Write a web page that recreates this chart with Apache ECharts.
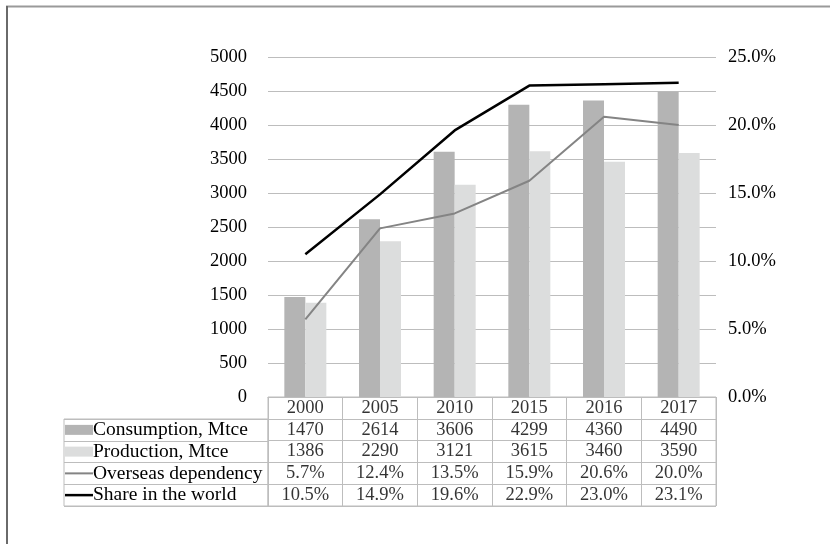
<!DOCTYPE html>
<html>
<head>
<meta charset="utf-8">
<script src="https://cdn.jsdelivr.net/npm/echarts@6/dist/echarts.min.js"></script>
<style>
html,body{margin:0;padding:0;background:#fff;}
#chart{width:830px;height:544px;}
</style>
</head>
<body>
<div id="chart"></div>
<script>
// ---- data ----
const years = ['2000', '2005', '2010', '2015', '2016', '2017'];
const consumption = [1470, 2614, 3606, 4299, 4360, 4490];
const production = [1386, 2290, 3121, 3615, 3460, 3590];
const overseas = [5.7, 12.4, 13.5, 15.9, 20.6, 20.0];
const share = [10.5, 14.9, 19.6, 22.9, 23.0, 23.1];
const seriesNames = ['Consumption, Mtce', 'Production, Mtce', 'Overseas dependency', 'Share in the world'];

// ---- styles ----
const FONT = 'Liberation Serif';
const FS = 18.5;
const FS_LABEL = 19.5;
const C_CONS = '#b4b4b4';
const C_PROD = '#dcdddd';
const C_OVER = '#848484';
const C_SHARE = '#000000';
const C_GRID = '#bdbdbd';

const pct = v => v.toFixed(1) + '%';
const tableRows = [
  years,
  consumption.map(String),
  production.map(String),
  overseas.map(pct),
  share.map(pct)
];
const cellData = [];
tableRows.forEach((row, r) => row.forEach((txt, c) => cellData.push({ name: txt, value: [c, r] })));

const chart = echarts.init(document.getElementById('chart'), null, { renderer: 'canvas' });
chart.setOption({
  animation: false,
  backgroundColor: '#fff',
  textStyle: { fontFamily: FONT, fontSize: FS, color: '#000' },
  graphic: [
    { type: 'line', shape: { x1: 6, y1: 6.5, x2: 830, y2: 6.5 }, style: { stroke: '#9a9a9a', lineWidth: 2 }, silent: true },
    { type: 'line', shape: { x1: 7, y1: 6, x2: 7, y2: 544 }, style: { stroke: '#6a6a6a', lineWidth: 2 }, silent: true }
  ],
  grid: [
    { left: 268, width: 448, top: 57, height: 340 },
    { left: 268, width: 448, top: 397, height: 109, show: true, borderColor: C_GRID, borderWidth: 1 },
    { left: 64, width: 204, top: 419, height: 87, show: true, borderColor: C_GRID, borderWidth: 1 }
  ],
  xAxis: [
    {
      type: 'category', data: years, gridIndex: 0,
      axisLine: { show: true, lineStyle: { color: C_GRID } },
      axisTick: { show: false }, axisLabel: { show: false }
    },
    {
      type: 'category', data: years, gridIndex: 1,
      axisLine: { show: false }, axisTick: { show: false }, axisLabel: { show: false },
      splitLine: { show: true, interval: 0, lineStyle: { color: C_GRID } }
    },
    { type: 'value', gridIndex: 2, min: 0, max: 1, show: false }
  ],
  yAxis: [
    {
      type: 'value', gridIndex: 0, min: 0, max: 5000, interval: 500,
      axisLine: { show: false }, axisTick: { show: false },
      axisLabel: { margin: 21, fontFamily: FONT, fontSize: FS, color: '#000', formatter: v => String(v) },
      splitLine: { show: true, lineStyle: { color: C_GRID } }
    },
    {
      type: 'value', gridIndex: 0, min: 0, max: 25, interval: 5, position: 'right',
      axisLine: { show: false }, axisTick: { show: false },
      axisLabel: { margin: 12, fontFamily: FONT, fontSize: FS, color: '#000', formatter: v => pct(v) },
      splitLine: { show: false }
    },
    {
      type: 'category', gridIndex: 1, inverse: true, data: ['header'].concat(seriesNames),
      axisLine: { show: false }, axisTick: { show: false }, axisLabel: { show: false },
      splitLine: { show: true, interval: 0, lineStyle: { color: C_GRID } }
    },
    {
      type: 'category', gridIndex: 2, inverse: true, data: seriesNames,
      axisLine: { show: false }, axisTick: { show: false },
      splitLine: { show: true, interval: 0, lineStyle: { color: C_GRID } },
      axisLabel: {
        inside: true, margin: 1, align: 'left',
        formatter: (v, i) => '{k' + i + '|}{t|' + v + '}',
        rich: {
          k0: { width: 28, height: 10, backgroundColor: C_CONS },
          k1: { width: 28, height: 10, backgroundColor: C_PROD },
          k2: { width: 28, height: 2, backgroundColor: C_OVER },
          k3: { width: 28, height: 2.5, backgroundColor: C_SHARE },
          t: { fontFamily: FONT, fontSize: FS_LABEL, color: '#000' }
        }
      }
    }
  ],
  series: [
    {
      name: seriesNames[0], type: 'bar', xAxisIndex: 0, yAxisIndex: 0,
      data: consumption, barWidth: 21, barGap: '0%',
      itemStyle: { color: C_CONS }, silent: true
    },
    {
      name: seriesNames[1], type: 'bar', xAxisIndex: 0, yAxisIndex: 0,
      data: production, barWidth: 21, barGap: '0%',
      itemStyle: { color: C_PROD }, silent: true
    },
    {
      name: seriesNames[2], type: 'line', xAxisIndex: 0, yAxisIndex: 1,
      data: overseas, symbol: 'none', lineStyle: { color: C_OVER, width: 2 }, silent: true
    },
    {
      name: seriesNames[3], type: 'line', xAxisIndex: 0, yAxisIndex: 1,
      data: share, symbol: 'none', lineStyle: { color: C_SHARE, width: 2.5 }, silent: true
    },
    {
      name: 'table', type: 'scatter', xAxisIndex: 1, yAxisIndex: 2,
      data: cellData, symbolSize: 0, silent: true,
      label: { show: true, position: 'inside', formatter: '{b}', fontFamily: FONT, fontSize: FS, color: '#000' }
    }
  ]
});
</script>
</body>
</html>
